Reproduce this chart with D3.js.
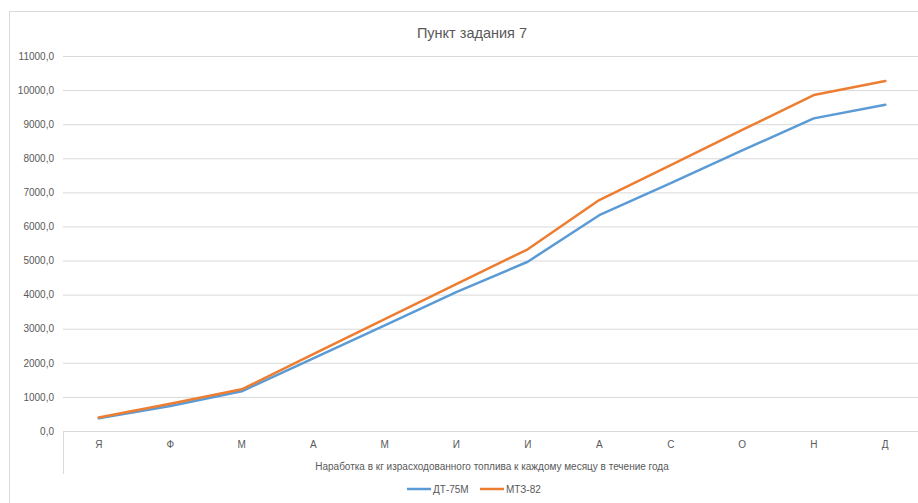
<!DOCTYPE html>
<html>
<head>
<meta charset="utf-8">
<script src="https://cdn.jsdelivr.net/npm/d3@7"></script>
<style>
  body { margin: 0; background: #fff; }
  svg { display: block; font-family: "Liberation Sans", "DejaVu Sans", sans-serif; }
</style>
</head>
<body>
<svg id="chart" width="918" height="503"></svg>
<script>
// chart data
var months = ['Я', 'Ф', 'М', 'А', 'М', 'И', 'И', 'А', 'С', 'О', 'Н', 'Д'];
var dtValues = [370, 735, 1165, 2130, 3100, 4075, 4965, 6330, 7270, 8230, 9170, 9570];
var mtzValues = [395, 800, 1222, 2255, 3280, 4310, 5330, 6775, 7800, 8830, 9855, 10265];
var seriesNames = ['ДТ-75М', 'МТЗ-82'];
var yTicks = [0, 1000, 2000, 3000, 4000, 5000, 6000, 7000, 8000, 9000, 10000, 11000];

var svg = d3.select('#chart');
var textColor = '#595959';
var gridColor = '#d9d9d9';
var colors = ['#5b9bd5', '#ed7d31'];

// plot area (note: "top" is reserved on window, so use other names)
var plotLeft = 63, plotRight = 921, plotTop = 56, plotBottom = 431;

// outer chart border
svg.append('rect')
    .attr('x', 9.5).attr('y', 11.5)
    .attr('width', 940).attr('height', 520)
    .attr('fill', 'none')
    .attr('stroke', gridColor);

var xScale = d3.scaleBand().domain(d3.range(months.length)).range([plotLeft, plotRight]);
var yScale = d3.scaleLinear().domain([0, 11000]).range([plotBottom, plotTop]);

// gridlines + y labels
var yAxis = d3.axisLeft(yScale)
    .tickValues(yTicks)
    .tickSize(-(plotRight - plotLeft))
    .tickPadding(9)
    .tickFormat(function(d) { return d3.format('.1f')(d).replace('.', ','); });

var gy = svg.append('g')
    .attr('transform', 'translate(' + plotLeft + ',0)')
    .call(yAxis);
gy.select('.domain').remove();
gy.selectAll('line').attr('stroke', gridColor).attr('stroke-width', 1);
gy.selectAll('text').attr('fill', textColor).style('font-size', '10px');

// category axis
var xAxis = d3.axisBottom(xScale)
    .tickSize(0)
    .tickPadding(10)
    .tickFormat(function(i) { return months[i]; });

var gx = svg.append('g')
    .attr('transform', 'translate(0,' + plotBottom + ')')
    .call(xAxis);
gx.select('.domain').attr('stroke', gridColor);
gx.selectAll('text').attr('fill', textColor).style('font-size', '10px');

// left edge of category axis area
svg.append('line')
    .attr('x1', plotLeft + 0.5).attr('x2', plotLeft + 0.5)
    .attr('y1', plotBottom).attr('y2', 474)
    .attr('stroke', gridColor);

// lines
var line = d3.line()
    .x(function(d, i) { return xScale(i) + xScale.bandwidth() / 2; })
    .y(function(d) { return yScale(d); });

[dtValues, mtzValues].forEach(function(vals, k) {
    svg.append('path')
        .datum(vals)
        .attr('fill', 'none')
        .attr('stroke', colors[k])
        .attr('stroke-width', 2.5)
        .attr('stroke-linejoin', 'round')
        .attr('stroke-linecap', 'round')
        .attr('d', line);
});

// title
svg.append('text')
    .attr('x', 472).attr('y', 38)
    .attr('text-anchor', 'middle')
    .attr('fill', textColor)
    .style('font-size', '14.5px')
    .text('Пункт задания 7');

// x axis title
svg.append('text')
    .attr('x', 492).attr('y', 470)
    .attr('text-anchor', 'middle')
    .attr('fill', textColor)
    .style('font-size', '10px')
    .text('Наработка в кг израсходованного топлива к каждому месяцу в течение года');

// legend
var legendX = [407, 480];
seriesNames.forEach(function(name, k) {
    svg.append('line')
        .attr('x1', legendX[k]).attr('x2', legendX[k] + 24)
        .attr('y1', 489).attr('y2', 489)
        .attr('stroke', colors[k])
        .attr('stroke-width', 2.5);
    svg.append('text')
        .attr('x', legendX[k] + 26).attr('y', 493)
        .attr('fill', textColor)
        .style('font-size', '10px')
        .text(name);
});
</script>
</body>
</html>
